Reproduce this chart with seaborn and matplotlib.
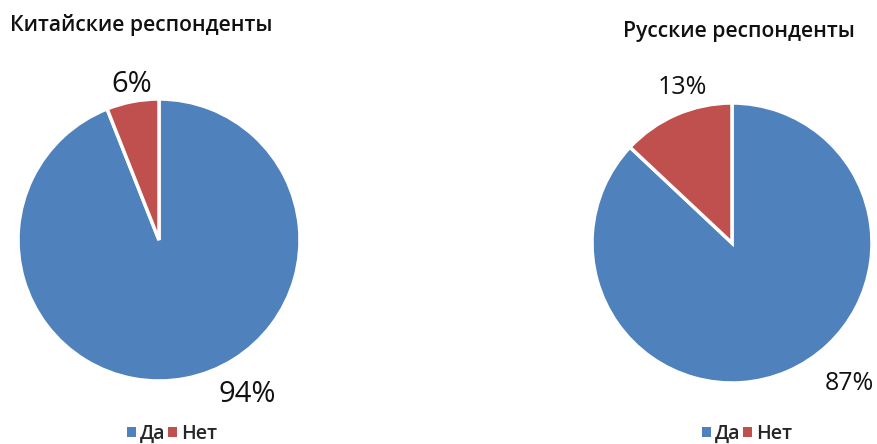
import matplotlib
matplotlib.use("Agg")
import matplotlib.pyplot as plt
import seaborn as sns
from matplotlib.patches import Patch

sns.set_theme(style="white")
plt.rcParams['font.family'] = ['Open Sans', 'DejaVu Sans']

categories = ["Да", "Нет"]
chinese_values = [94, 6]
russian_values = [87, 13]
titles = ["Китайские респонденты", "Русские респонденты"]
colors = ["#4F81BD", "#C0504D"]

W, H = 878, 444
fig = plt.figure(figsize=(W / 100, H / 100), dpi=100)


def px_axes(cx, cy, r):
    return fig.add_axes([(cx - r) / W, (H - cy - r) / H, 2 * r / W, 2 * r / H])


def draw_pie(ax, values):
    ax.pie(values, colors=colors, startangle=90, counterclock=False,
           wedgeprops=dict(edgecolor="white", linewidth=2.5))
    ax.set_xlim(-1, 1)
    ax.set_ylim(-1, 1)
    ax.set_aspect("equal")
    ax.axis("off")


ax1 = px_axes(159, 240, 141)
draw_pie(ax1, chinese_values)
ax2 = px_axes(732, 243, 140)
draw_pie(ax2, russian_values)


def ftext(x, y, s, size, **kw):
    fig.text(x / W, 1 - y / H, s, fontsize=size, va="center", **kw)


ftext(10, 25, titles[0], 15.2, ha="left", color="#111111", fontweight="semibold")
ftext(623, 32, titles[1], 15.2, ha="left", color="#111111", fontweight="semibold")

ftext(132, 85, f"{chinese_values[1]}%", 21, ha="center", color="#111111")
ftext(247, 394, f"{chinese_values[0]}%", 21, ha="center", color="#111111")
ftext(682, 88, f"{russian_values[1]}%", 18, ha="center", color="#111111")
ftext(849, 383, f"{russian_values[0]}%", 18, ha="center", color="#111111")

handles = [Patch(facecolor=c, edgecolor="none") for c in colors]
for cx in (172, 747):
    fig.legend(handles, categories, loc="center", bbox_to_anchor=(cx / W, 1 - 434 / H),
               ncol=2, frameon=False, handlelength=0.45, handleheight=0.45,
               handletextpad=0.2, columnspacing=0.15, borderpad=0,
               prop=dict(size=14, weight="semibold"))

fig.savefig("out.png", dpi=100, facecolor="white")
